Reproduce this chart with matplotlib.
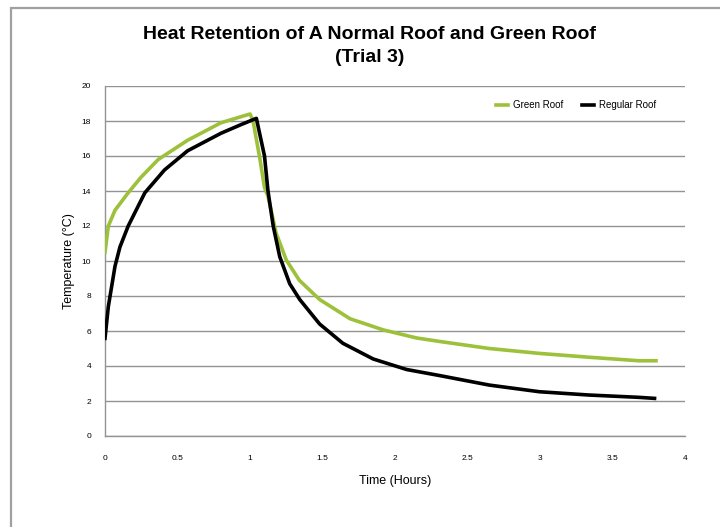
import matplotlib
matplotlib.use("Agg")
import matplotlib.pyplot as plt
from matplotlib.patches import Rectangle

plt.rcParams['font.family'] = ['Liberation Sans', 'DejaVu Sans']

# Data
green_t = [0.0, 0.023, 0.069, 0.16, 0.25, 0.367, 0.57, 0.80, 1.0, 1.02, 1.067, 1.10, 1.124, 1.18, 1.25,
           1.34, 1.48, 1.69, 1.92, 2.15, 2.31, 2.65, 2.995, 3.34, 3.68, 3.80]
green_T = [10.5, 12.0, 12.9, 13.9, 14.8, 15.8, 16.9, 17.9, 18.4, 18.05, 15.9, 14.2, 13.7, 11.6, 10.06,
           8.9, 7.8, 6.7, 6.06, 5.6, 5.4, 5.0, 4.72, 4.5, 4.3, 4.3]

black_t = [0.0, 0.023, 0.069, 0.103, 0.16, 0.275, 0.41, 0.57, 0.80, 0.94, 1.044, 1.10, 1.124, 1.16, 1.205,
           1.274, 1.343, 1.48, 1.64, 1.85, 2.08, 2.31, 2.65, 2.995, 3.34, 3.68, 3.79]
black_T = [5.58, 7.4, 9.7, 10.8, 12.0, 13.9, 15.2, 16.3, 17.3, 17.8, 18.15, 16.0, 14.0, 12.0, 10.25,
           8.7, 7.8, 6.4, 5.3, 4.4, 3.8, 3.45, 2.91, 2.53, 2.34, 2.21, 2.15]

x_ticks = [0, 0.5, 1, 1.5, 2, 2.5, 3, 3.5, 4]
x_labels = ['0', '0.5', '1', '1.5', '2', '2.5', '3', '3.5', '4']
y_ticks = [0, 2, 4, 6, 8, 10, 12, 14, 16, 18, 20]

title = "Heat Retention of A Normal Roof and Green Roof\n(Trial 3)"

fig = plt.figure(figsize=(7.2, 5.27), dpi=100)
fig.patch.set_facecolor('white')

# outer chart border
fig.patches.append(Rectangle((11/720, -0.1), 1.2, 1.1 - 8/527, transform=fig.transFigure,
                             fill=False, edgecolor='#a0a0a0', linewidth=1.6))

ax = fig.add_axes([105/720, 1 - 436/527, 580/720, 350/527])
ax.plot(green_t, green_T, color='#9dc13a', linewidth=2.6, label='Green Roof', zorder=3)
ax.plot(black_t, black_T, color='#000000', linewidth=2.6, label='Regular Roof', zorder=4)

ax.set_xlim(0, 4)
ax.set_ylim(0, 20)
ax.set_xticks(x_ticks)
ax.set_xticklabels(x_labels)
ax.set_yticks(y_ticks)
ax.tick_params(axis='both', length=0, labelsize=6, pad=14)
ax.tick_params(axis='y', pad=10)
ax.grid(axis='y', color='#939393', linewidth=1.0)
ax.set_axisbelow(True)
for s in ['top', 'right']:
    ax.spines[s].set_visible(False)
for s in ['left', 'bottom']:
    ax.spines[s].set_color('#939393')
    ax.spines[s].set_linewidth(1.0)

ax.set_xlabel('Time (Hours)', fontsize=9, labelpad=9)
ax.set_ylabel('Temperature (°C)', fontsize=9, labelpad=5)

fig.text(370/720, 1 - 46/527, title, ha='center', va='center', fontsize=14,
         fontweight='bold', linespacing=1.45)

leg = ax.legend(loc='upper right', bbox_to_anchor=(0.965, 0.985), ncol=2, frameon=False,
                fontsize=7, handlelength=1.2, columnspacing=2.0, handletextpad=0.5)

fig.savefig('out.png', dpi=100, facecolor='white')
